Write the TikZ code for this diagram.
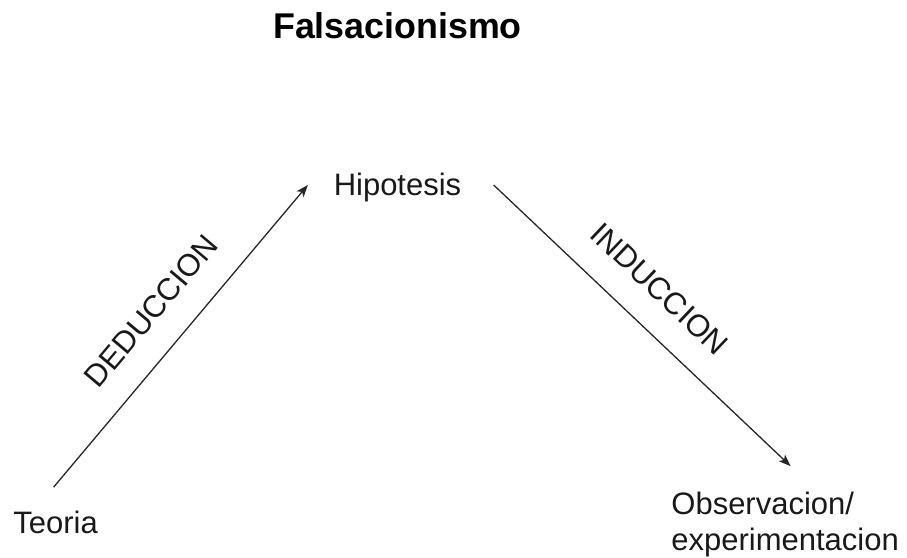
\documentclass[tikz,border=0pt]{standalone}
\usepackage{fontspec}
\setmainfont{Liberation Sans}
\usetikzlibrary{arrows.meta,calc}
\newcommand{\TextSize}{15.5}
\newcommand{\TitleSize}{17.9}
\colorlet{wireColor}{black!85}
\colorlet{textColor}{black!90}

\begin{document}
\begin{tikzpicture}[
  x=0.5pt, y=-0.5pt,
  title/.style   = {font=\fontsize{\TitleSize}{21}\selectfont\bfseries,
                    inner sep=0pt, text=black},
  lbl/.style     = {font=\fontsize{\TextSize}{18}\selectfont,
                    inner sep=0pt, text=textColor},
  arr/.style     = {wireColor, line width=0.65pt,
                    -{Stealth[length=6pt,width=4.5pt,inset=1.5pt]}},
  steplbl/.style = {lbl, sloped, above=13.5pt},
]
\useasboundingbox (0,0) rectangle (907,558);

% ----------------------------------------------------------------
% Title and the three stages
% ----------------------------------------------------------------
\node[title, anchor=base] (heading) at (397.5,38) {Falsacionismo};

\node[lbl, anchor=base] (hip) at (397.5,195) {Hipotesis};

\node[lbl, anchor=base west] (teoria) at (13,533) {Teoria};

% base of a two-line node is the baseline of its last line
\node[lbl, anchor=base west, align=left]
  (obs) at (671,550) {Observacion/\\experimentacion};

% ----------------------------------------------------------------
% Connections
% ----------------------------------------------------------------

% Teoria -> Hipotesis
\draw[arr] ($(teoria.north)+(-2,-23)$)
  -- node[steplbl, pos=0.5]{DEDUCCION}
  ($(hip.west)+(-25.5,-2)$);

% Hipotesis -> Observacion
\draw[arr] ($(hip.east)+(32,-2)$)
  -- node[steplbl, pos=0.47]{INDUCCION}
  ($(obs.north)+(5.5,-25)$);

\end{tikzpicture}
\end{document}
